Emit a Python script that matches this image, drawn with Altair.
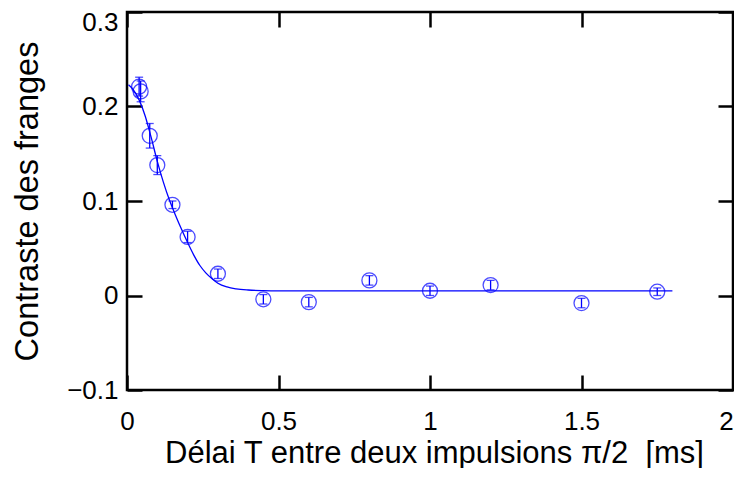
import altair as alt
import pandas as pd

# Measured points (delay in ms, fringe contrast, error bar half-height)
delay_ms = [0.040, 0.045, 0.075, 0.10, 0.15, 0.20, 0.30, 0.45, 0.60, 0.80, 1.00, 1.20, 1.50, 1.75]
contrast = [0.221, 0.216, 0.169, 0.138, 0.096, 0.062, 0.023, -0.004, -0.007, 0.016, 0.005, 0.011, -0.008, 0.004]
contrast_err = [0.010, 0.011, 0.013, 0.010, 0.004, 0.006, 0.005, 0.005, 0.005, 0.005, 0.005, 0.005, 0.005, 0.004]

# Fitted curve
fit_delay = [0.005, 0.02, 0.04, 0.06, 0.08, 0.10, 0.12, 0.14, 0.16, 0.18, 0.20, 0.22, 0.24,
             0.26, 0.28, 0.30, 0.33, 0.36, 0.40, 0.45, 0.50, 0.60, 1.80]
fit_contrast = [0.223, 0.218, 0.207, 0.190, 0.167, 0.142, 0.120, 0.101, 0.085, 0.070, 0.056, 0.043, 0.032,
                0.024, 0.018, 0.013, 0.009, 0.007, 0.0058, 0.0052, 0.005, 0.005, 0.005]

x_ticks = [0, 0.5, 1, 1.5, 2]
y_ticks = [-0.1, 0, 0.1, 0.2, 0.3]

pts = pd.DataFrame({
    "T": delay_ms,
    "C": contrast,
    "lo": [c - e for c, e in zip(contrast, contrast_err)],
    "hi": [c + e for c, e in zip(contrast, contrast_err)],
})
fit = pd.DataFrame({"T": fit_delay, "C": fit_contrast})

BLUE = "#0000ff"
FONT = "Liberation Sans"
TICK = 15

xs = alt.Scale(domain=[0, 2], nice=False, zero=False)
ys = alt.Scale(domain=[-0.1, 0.3], nice=False, zero=False)

x_bottom = alt.Axis(orient="bottom", values=x_ticks, format="~g", offset=-TICK, tickSize=TICK,
                    domain=False, labelPadding=18, labelFlush=False, labelOverlap=False,
                    labelOffset={"condition": {"test": "datum.value > 1.9", "value": -7}, "value": 0},
                    title="Délai T entre deux impulsions π/2\u00a0 [ms]", titleFontSize=31,
                    titleX=307, titleY=87, titleBaseline="alphabetic", titleAlign="center")
y_left = alt.Axis(orient="left", values=y_ticks, format="~g", offset=-TICK, tickSize=TICK,
                  domain=False, labelPadding=9, labelOverlap=False,
                  labelOffset={"condition": {"test": "datum.value > 0.25", "value": 10}, "value": 0},
                  title="Contraste des franges", titleFontSize=32.5, titleX=-105, titleY=189,
                  titleAngle=270, titleBaseline="alphabetic", titleAlign="center")
x_top = alt.Axis(orient="top", values=x_ticks, offset=-TICK, tickSize=TICK, domain=False,
                 labels=False, title=None)
y_right = alt.Axis(orient="right", values=y_ticks, offset=-TICK, tickSize=TICK, domain=False,
                   labels=False, title=None)

curve = alt.Chart(fit).mark_line(color=BLUE, strokeWidth=1.3, interpolate="monotone").encode(
    x=alt.X("T:Q", scale=xs, axis=x_bottom),
    y=alt.Y("C:Q", scale=ys, axis=y_left),
)

bars = alt.Chart(pts).mark_rule(color=BLUE, strokeWidth=1.3).encode(
    x=alt.X("T:Q", scale=xs, axis=x_top),
    y=alt.Y("lo:Q", scale=ys, axis=y_right),
    y2="hi:Q",
)

cap_lo = alt.Chart(pts).mark_tick(color=BLUE, orient="horizontal", size=8, thickness=1.3).encode(
    x=alt.X("T:Q", scale=xs, axis=None),
    y=alt.Y("lo:Q", scale=ys, axis=None),
)
cap_hi = alt.Chart(pts).mark_tick(color=BLUE, orient="horizontal", size=8, thickness=1.3).encode(
    x=alt.X("T:Q", scale=xs, axis=None),
    y=alt.Y("hi:Q", scale=ys, axis=None),
)

circles = alt.Chart(pts).mark_point(shape="circle", filled=False, color=BLUE, size=225,
                                    strokeWidth=1.3).encode(
    x=alt.X("T:Q", scale=xs, axis=None),
    y=alt.Y("C:Q", scale=ys, axis=None),
)

chart = alt.layer(curve, bars, cap_lo, cap_hi, circles).resolve_axis(
    x="independent", y="independent"
).properties(
    width=606, height=378,
    autosize=alt.AutoSizeParams(type="none"),
    padding={"left": 119, "top": 4, "right": 1, "bottom": 78},
    background="white",
).configure_view(
    stroke="black", strokeWidth=2.5
).configure_axis(
    grid=False,
    labelFont=FONT, labelFontSize=26, labelColor="black",
    titleFont=FONT, titleFontWeight="normal", titleColor="black",
    tickColor="black", tickWidth=2.5,
)

chart.save("out.html", embed_options={"renderer": "svg", "actions": False})
